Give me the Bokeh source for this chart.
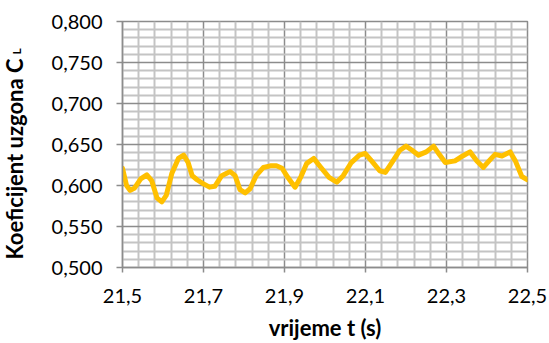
from bokeh.plotting import figure
from bokeh.models import FixedTicker, Range1d, ColumnDataSource
from bokeh.layouts import row
from bokeh.core.properties import value
from bokeh.embed import file_html
from bokeh.resources import INLINE
import math

# ---- data ----
t = [21.500, 21.510, 21.519, 21.530, 21.545, 21.560, 21.572, 21.585, 21.597, 21.608,
     21.622, 21.638, 21.651, 21.662, 21.672, 21.684, 21.700, 21.715, 21.728, 21.745,
     21.766, 21.778, 21.790, 21.803, 21.815, 21.830, 21.848, 21.865, 21.880, 21.894,
     21.908, 21.926, 21.940, 21.955, 21.972, 21.990, 22.010, 22.029, 22.045, 22.065,
     22.085, 22.099, 22.115, 22.135, 22.149, 22.165, 22.185, 22.200, 22.215, 22.231,
     22.250, 22.268, 22.282, 22.297, 22.321, 22.340, 22.358, 22.375, 22.391, 22.405,
     22.420, 22.437, 22.457, 22.470, 22.486, 22.500]
cl = [0.621, 0.600, 0.594, 0.597, 0.608, 0.613, 0.606, 0.585, 0.580, 0.588,
      0.615, 0.633, 0.637, 0.628, 0.612, 0.607, 0.602, 0.598, 0.599, 0.612,
      0.617, 0.612, 0.595, 0.591, 0.596, 0.612, 0.622, 0.624, 0.624, 0.621,
      0.610, 0.598, 0.610, 0.627, 0.633, 0.622, 0.610, 0.604, 0.612, 0.628,
      0.637, 0.639, 0.630, 0.618, 0.616, 0.628, 0.643, 0.648, 0.643, 0.637,
      0.641, 0.648, 0.638, 0.628, 0.630, 0.636, 0.641, 0.630, 0.622, 0.630,
      0.638, 0.636, 0.641, 0.630, 0.611, 0.607]

x_ticks = [21.5, 21.7, 21.9, 22.1, 22.3, 22.5]
x_tick_labels = ["21,5", "21,7", "21,9", "22,1", "22,3", "22,5"]
x_minor = [21.54, 21.58, 21.62, 21.66, 21.74, 21.78, 21.82, 21.86, 21.94, 21.98,
           22.02, 22.06, 22.14, 22.18, 22.22, 22.26, 22.34, 22.38, 22.42, 22.46]
y_ticks = [0.5, 0.55, 0.6, 0.65, 0.7, 0.75, 0.8]
y_tick_labels = ["0,500", "0,550", "0,600", "0,650", "0,700", "0,750", "0,800"]
y_minor = [0.51, 0.52, 0.53, 0.54, 0.56, 0.57, 0.58, 0.59, 0.61, 0.62, 0.63, 0.64,
           0.66, 0.67, 0.68, 0.69, 0.71, 0.72, 0.73, 0.74, 0.76, 0.77, 0.78, 0.79]

x_title = "vrijeme t (s)"
y_title = "Koeficijent uzgona C"
y_title_sub = "L"

FONT = "Lato"
MAJOR = "#8c8c8c"
MINOR = "#c4c4c4"

TOTAL_H = 341
LEFT_W = 40

# ---- narrow panel holding the rotated y-axis title (with subscript) ----
tp = figure(frame_width=LEFT_W, frame_height=TOTAL_H,
            x_range=Range1d(0, LEFT_W), y_range=Range1d(0, TOTAL_H),
            min_border=0, output_backend="svg", toolbar_location=None)
tp.axis.visible = False
tp.grid.visible = False
tp.outline_line_color = None
tp.background_fill_color = "white"
tp.text(x=[14], y=[103], text=[y_title], angle=math.pi / 2,
        text_align="left", text_baseline="alphabetic",
        text_font=value(FONT), text_font_style="bold", text_font_size="22px",
        text_color="black")
tp.text(x=[16], y=[308], text=[y_title_sub], angle=math.pi / 2,
        text_align="left", text_baseline="alphabetic",
        text_font=value(FONT), text_font_style="bold", text_font_size="12px",
        text_color="black")

# ---- main chart ----
p = figure(frame_width=405, frame_height=246,
           min_border_left=122 - LEFT_W, min_border_right=20,
           min_border_top=21, min_border_bottom=TOTAL_H - 21 - 246,
           x_range=Range1d(21.5, 22.5), y_range=Range1d(0.5, 0.8),
           output_backend="svg", toolbar_location=None)

p.background_fill_color = "white"
p.border_fill_color = "white"
p.outline_line_color = MAJOR
p.outline_line_width = 1.5

p.xaxis.ticker = FixedTicker(ticks=x_ticks, minor_ticks=x_minor)
p.yaxis.ticker = FixedTicker(ticks=y_ticks, minor_ticks=y_minor)
p.xaxis.major_label_overrides = dict(zip(x_ticks, x_tick_labels))
p.yaxis.major_label_overrides = dict(zip(y_ticks, y_tick_labels))

for ax in (p.xaxis, p.yaxis):
    ax.axis_line_color = MAJOR
    ax.axis_line_width = 1.5
    ax.major_tick_line_color = MAJOR
    ax.major_tick_line_width = 1.5
    ax.major_tick_in = 0
    ax.minor_tick_line_color = None
    ax.major_label_text_font = FONT
    ax.major_label_text_font_size = "20px"
    ax.major_label_text_color = "black"

p.yaxis.major_tick_out = 6
p.yaxis.major_label_standoff = 14
p.xaxis.major_tick_out = 5
p.xaxis.major_label_standoff = 16

p.xaxis.axis_label = x_title
p.xaxis.axis_label_text_font = FONT
p.xaxis.axis_label_text_font_style = "bold"
p.xaxis.axis_label_text_font_size = "22px"
p.xaxis.axis_label_text_color = "black"
p.xaxis.axis_label_standoff = 8

for g in (p.xgrid, p.ygrid):
    g.grid_line_color = MAJOR
    g.grid_line_width = 1.5
    g.minor_grid_line_color = MINOR
    g.minor_grid_line_width = 2

src = ColumnDataSource(data=dict(t=t, cl=cl))
p.line("t", "cl", source=src, line_color="#ffc000", line_width=5,
       line_join="round", line_cap="round")

layout = row(tp, p, spacing=0)
open("out.html", "w").write(file_html(layout, INLINE))
